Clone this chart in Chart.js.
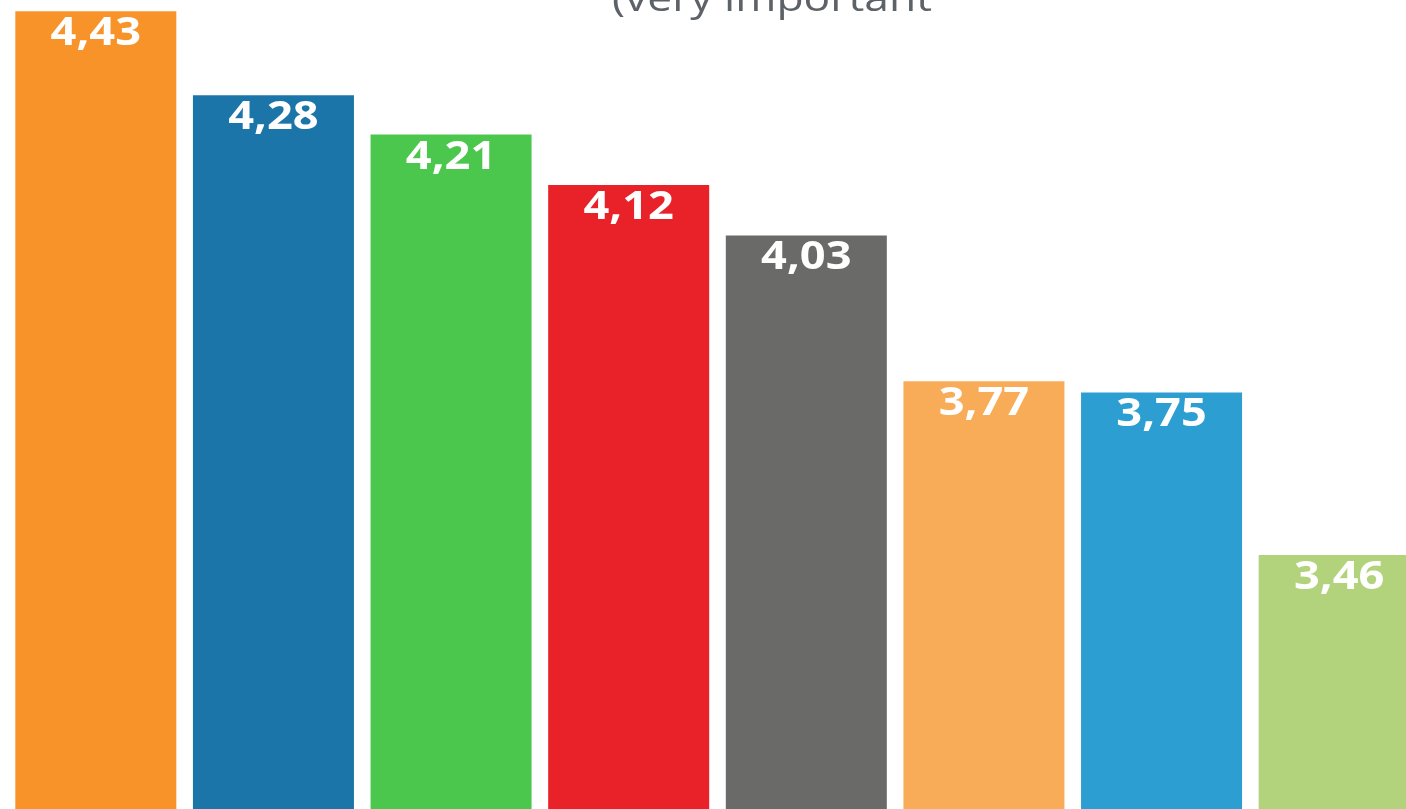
<!DOCTYPE html>
<html>
<head>
<meta charset="utf-8">
<script src="https://cdn.jsdelivr.net/npm/chart.js@4/dist/chart.umd.min.js"></script>
<style>
  html, body { margin: 0; padding: 0; background: #ffffff; overflow: hidden; width: 1406px; height: 809px; }
  #wrap { position: absolute; left: 0; top: 0; width: 1428px; height: 813px; }
</style>
</head>
<body>
<div id="wrap"><canvas id="c"></canvas></div>
<script>
const categories = ["1", "2", "3", "4", "5", "6", "7", "8"];
const values = [4.43, 4.28, 4.21, 4.12, 4.03, 3.77, 3.75, 3.46];
const barColors = ["#F8932A", "#1C75A8", "#4CC74E", "#E92128", "#6A6B69", "#F9AC58", "#2D9ED1", "#B2D37B"];
const titleText = "(very important";
const yMin = 3.0, yMax = 4.45;

const titlePlugin = {
  id: 'croppedTitle',
  afterDraw(chart) {
    const ctx = chart.ctx;
    ctx.save();
    ctx.font = '37px "Open Sans"';
    ctx.fillStyle = '#5d6268';
    ctx.textAlign = 'center';
    ctx.textBaseline = 'alphabetic';
    ctx.translate(772, 10.5);
    ctx.scale(1.2, 1);
    ctx.fillText(titleText, 0, 0);
    ctx.restore();
  }
};

const labelPlugin = {
  id: 'valueLabels',
  afterDatasetsDraw(chart) {
    const ctx = chart.ctx;
    const meta = chart.getDatasetMeta(0);
    ctx.save();
    ctx.font = 'bold 40px "Open Sans"';
    ctx.fillStyle = '#ffffff';
    ctx.textAlign = 'center';
    ctx.textBaseline = 'alphabetic';
    meta.data.forEach((bar, i) => {
      const txt = values[i].toFixed(2).replace('.', ',');
      ctx.save();
      ctx.translate(bar.x, bar.y + 34);
      ctx.scale(1.13, 1);
      ctx.fillText(txt, 0, 0);
      ctx.restore();
    });
    ctx.restore();
  }
};

new Chart(document.getElementById('c'), {
  type: 'bar',
  data: {
    labels: categories,
    datasets: [{
      data: values,
      backgroundColor: barColors,
      borderWidth: 0,
      barPercentage: 0.9065,
      categoryPercentage: 1.0
    }]
  },
  options: {
    responsive: true,
    maintainAspectRatio: false,
    animation: false,
    layout: { padding: { left: 7, right: 0, top: 0, bottom: 0 } },
    plugins: { legend: { display: false }, tooltip: { enabled: false }, title: { display: false } },
    scales: {
      x: { display: false },
      y: { display: false, min: yMin, max: yMax }
    }
  },
  plugins: [titlePlugin, labelPlugin]
});
</script>
</body>
</html>
